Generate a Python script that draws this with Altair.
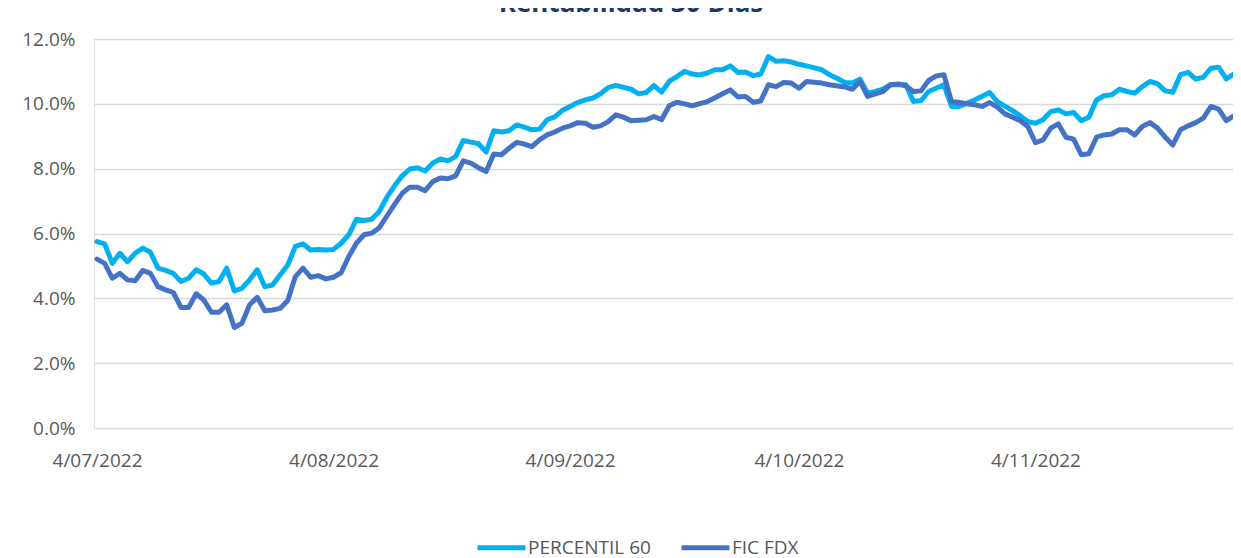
import altair as alt
import pandas as pd

# ---------------- data ----------------
start = pd.Timestamp("2022-07-04")
title_text = "Rentabilidad 30 Días"
series_names = ["PERCENTIL 60", "FIC FDX"]
series_colors = ["#00B0F0", "#4472C4"]
y_ticks = [0, 2, 4, 6, 8, 10, 12]

# day offsets (from 4/07/2022) and values (%)
p60_day = list(range(0, 69)) + [70, 71, 72, 73, 74, 75, 76, 77, 78, 79, 80, 81, 82, 83, 84, 85, 86, 87, 88,
                                 89, 90, 91, 92, 93, 95, 96, 97, 98, 99, 100, 101, 102, 103, 104, 106, 107,
                                 108, 109, 111, 112, 113, 115, 116, 117, 118] + list(range(120, 150))
p60_val = [5.75, 5.68, 5.08, 5.39, 5.13, 5.39, 5.55, 5.42, 4.93, 4.86,
           4.77, 4.52, 4.62, 4.88, 4.75, 4.47, 4.52, 4.93, 4.23, 4.31,
           4.57, 4.88, 4.36, 4.41, 4.72, 5.03, 5.60, 5.68, 5.49, 5.51,
           5.49, 5.51, 5.70, 5.96, 6.44, 6.40, 6.44, 6.68, 7.12, 7.47,
           7.78, 7.99, 8.03, 7.93, 8.17, 8.30, 8.24, 8.37, 8.87, 8.82,
           8.77, 8.51, 9.17, 9.13, 9.17, 9.35, 9.28, 9.20, 9.22, 9.51,
           9.60, 9.80, 9.92, 10.04, 10.12, 10.18, 10.31, 10.50, 10.57,
           10.45, 10.31, 10.35, 10.56, 10.36, 10.69, 10.84, 11.00, 10.92, 10.89,
           10.95, 11.05, 11.05, 11.17, 10.97, 10.98, 10.87, 10.92, 11.46,
           11.31, 11.33, 11.29, 11.22, 11.17, 11.05, 10.90, 10.79, 10.66, 10.64,
           10.76, 10.33, 10.38, 10.45, 10.59, 10.59, 10.07,
           10.10, 10.38, 10.59, 9.92, 9.92, 10.12, 10.23, 10.35, 10.07,
           9.79, 9.63, 9.45, 9.40, 9.51, 9.76, 9.81, 9.69, 9.73, 9.48,
           9.59, 10.12, 10.25, 10.28, 10.45, 10.38, 10.33, 10.53, 10.69, 10.62,
           10.40, 10.36, 10.90, 10.97, 10.76, 10.82, 11.10, 11.13, 10.77, 10.92]

fdx_day = list(range(0, 71)) + [72, 73, 74, 75, 76, 77, 78, 80, 81, 82, 83, 84, 85, 86, 87, 88, 89, 90, 91,
                                92, 93, 95, 96, 98, 99, 100, 101, 102, 103, 104, 105, 106, 107, 108, 109,
                                110, 111, 112, 113] + list(range(115, 150))
fdx_val = [5.21, 5.08, 4.62, 4.77, 4.57, 4.54, 4.86, 4.77, 4.36, 4.26,
           4.18, 3.72, 3.72, 4.14, 3.95, 3.57, 3.57, 3.80, 3.10, 3.23,
           3.80, 4.03, 3.62, 3.64, 3.69, 3.93, 4.67, 4.93, 4.65, 4.70,
           4.60, 4.65, 4.79, 5.29, 5.70, 5.96, 6.01, 6.18, 6.54, 6.90,
           7.24, 7.43, 7.43, 7.32, 7.60, 7.71, 7.69, 7.78, 8.24, 8.17,
           8.03, 7.91, 8.45, 8.43, 8.63, 8.81, 8.76, 8.68, 8.89, 9.04,
           9.13, 9.25, 9.32, 9.42, 9.40, 9.28, 9.32, 9.45, 9.66, 9.59,
           9.48,
           9.51, 9.61, 9.51, 9.94, 10.05, 10.00, 9.94, 10.07, 10.19, 10.31,
           10.43, 10.21, 10.23, 10.05, 10.09, 10.59, 10.53, 10.66, 10.64,
           10.48, 10.69, 10.64, 10.59, 10.52, 10.45, 10.69, 10.23, 10.31, 10.38,
           10.59, 10.61, 10.56, 10.38, 10.40, 10.72, 10.86, 10.90, 10.07, 10.04,
           9.97, 9.92, 10.04, 9.90, 9.69, 9.59, 9.48, 9.30, 8.80, 8.89,
           9.25, 9.38, 8.97, 8.91, 8.43, 8.46, 8.97, 9.04, 9.07, 9.20,
           9.20, 9.04, 9.30, 9.42, 9.25, 8.97, 8.73, 9.20, 9.32, 9.42,
           9.56, 9.92, 9.84, 9.48, 9.63]


def frame(days, vals, name):
    return pd.DataFrame({
        "fecha": [start + pd.Timedelta(days=int(d)) for d in days],
        "valor": vals,
        "serie": name,
    })


df_p60 = frame(p60_day, p60_val, series_names[0])
df_fdx = frame(fdx_day, fdx_val, series_names[1])

FONT = "Open Sans"
GRAY = "#595959"

x_enc = alt.X(
    "fecha:T",
    scale=alt.Scale(domain=[alt.DateTime(year=2022, month=7, date=3, hours=14, minutes=34),
                            alt.DateTime(year=2022, month=11, date=29, hours=21, minutes=20)]),
    axis=alt.Axis(
        values=[alt.DateTime(year=2022, month=m, date=4) for m in [7, 8, 9, 10, 11]],
        format="%-d/%m/%Y", grid=False, ticks=False, domain=False,
        labelPadding=23, labelFontSize=19, labelFont=FONT, labelColor=GRAY,
        title=None, labelOverlap=False,
    ),
)
y_enc = alt.Y(
    "valor:Q",
    scale=alt.Scale(domain=[0, 12], nice=False),
    axis=alt.Axis(
        values=y_ticks, labelExpr="format(datum.value, '.1f') + '%'",
        grid=True, gridColor="#D9D9D9", gridWidth=1.5, domain=False, ticks=False,
        labelPadding=19, labelFontSize=19, labelFont=FONT, labelColor=GRAY, title=None,
    ),
)
color_enc = alt.Color(
    "serie:N",
    scale=alt.Scale(domain=series_names, range=series_colors),
    legend=alt.Legend(
        title=None, orient="none", legendX=381, legendY=482, direction="horizontal",
        symbolType="stroke", symbolSize=2304, symbolStrokeWidth=5,
        labelFontSize=19, labelFont=FONT, labelColor=GRAY, labelOffset=0,
        columnPadding=20,
    ),
)

line_p60 = alt.Chart(df_p60).mark_line(strokeWidth=5, strokeJoin="round", strokeCap="round").encode(
    x=x_enc, y=y_enc, color=color_enc)
line_fdx = alt.Chart(df_fdx).mark_line(strokeWidth=5, strokeJoin="round", strokeCap="round").encode(
    x=x_enc, y=y_enc, color=color_enc)

title_layer = alt.Chart(pd.DataFrame({"t": [title_text]})).mark_text(
    font=FONT, fontSize=26, fontWeight="bold", color="#1F3864", align="center", baseline="alphabetic"
).encode(x=alt.value(537), y=alt.value(-27), text="t:N")

chart = alt.layer(line_p60, line_fdx, title_layer).properties(
    width=1139, height=389,
    autosize=alt.AutoSizeParams(type="none"),
    padding={"left": 86, "top": 31, "right": 0, "bottom": 130},
).configure_view(stroke=None).configure(background="white")

chart.save("out.html", embed_options={"renderer": "svg", "actions": False})
